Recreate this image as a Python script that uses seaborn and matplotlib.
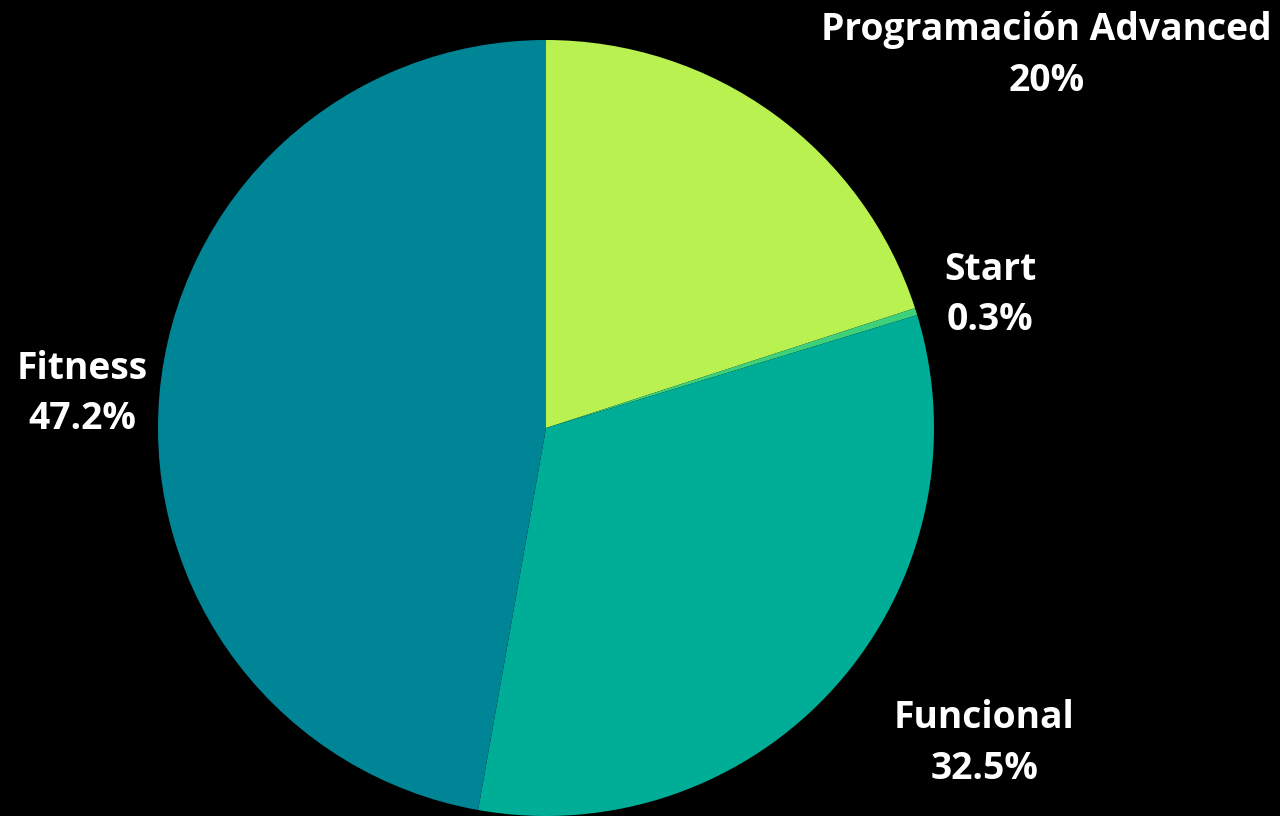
import matplotlib
matplotlib.use("Agg")
import matplotlib.pyplot as plt
import seaborn as sns

# Slice data (clockwise from 12 o'clock)
categories = ['Programación Advanced', 'Start', 'Funcional', 'Fitness']
values = [20.0, 0.3, 32.5, 47.2]
colors = ['#b9f150', '#3fd17a', '#00ae97', '#008596']

# label anchor points (data coords, pie radius = 1)
label_pos = [(1.29, 0.96), (1.145, 0.342), (1.13, -0.813), (-1.195, 0.087)]

sns.set_theme(style='dark')
plt.rcParams['font.family'] = ['Open Sans', 'DejaVu Sans']

fig = plt.figure(figsize=(12.8, 8.16), dpi=100, facecolor='black')
ax = fig.add_axes([158 / 1280, 0, 776 / 1280, 776 / 816])
ax.set_facecolor('black')

ax.pie(values, colors=colors, startangle=90, counterclock=False,
       wedgeprops=dict(linewidth=0))

for name, v, (x, y) in zip(categories, values, label_pos):
    txt = f'{v:g}%'
    ax.text(x, y, f'{name}\n{txt}', ha='center', va='center', color='white',
            fontsize=26.8, fontweight='bold', linespacing=1.42, clip_on=False)

ax.set_xlim(-1, 1)
ax.set_ylim(-1, 1)
ax.set_aspect('equal')
ax.axis('off')

fig.savefig('out.png', dpi=100, facecolor='black')
